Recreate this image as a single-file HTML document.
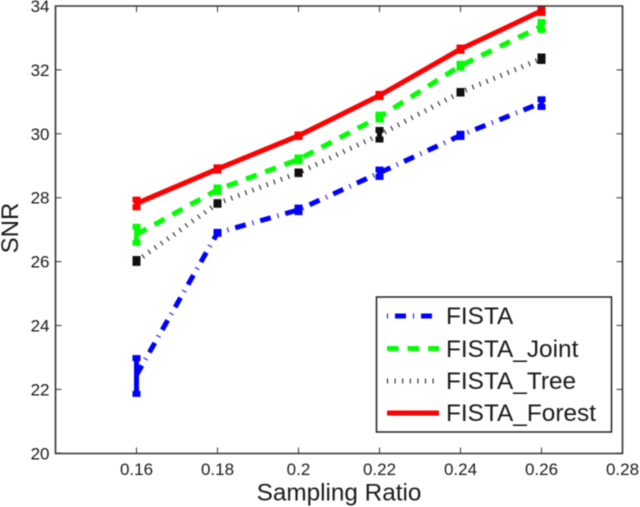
<!DOCTYPE html>
<html>
<head>
<meta charset="utf-8">
<title>SNR vs Sampling Ratio</title>
<style>
html,body{margin:0;padding:0;background:#fff;width:640px;height:507px;overflow:hidden}
svg{display:block;filter:blur(0.4px)}
text{font-family:"Liberation Sans",Arial,sans-serif;fill:#1a1a1a}
</style>
</head>
<body>
<svg id="chart" width="640" height="507" viewBox="0 0 640 507" xmlns="http://www.w3.org/2000/svg">
  <rect x="55.5" y="6" width="567" height="447.5" fill="#fff"/>
  <g id="marks"></g>
  <g id="axes"></g>
  <text x="339" y="500.5" font-size="24.3" text-anchor="middle">Sampling Ratio</text>
  <text transform="translate(18,228) rotate(-90)" font-size="24" text-anchor="middle">SNR</text>
  <g>
    <rect x="376.5" y="297" width="235" height="135" fill="#fff" stroke="#222" stroke-width="1.5"/>
    <g>
      <line x1="387" x2="439" y1="316" y2="316" stroke="#0000ff" stroke-width="5" stroke-dasharray="1 7 11 7"/>
      <text x="446" y="324" font-size="24.4">FISTA</text>
    </g>
    <g>
      <line x1="387" x2="439" y1="348.5" y2="348.5" stroke="#00ff00" stroke-width="5" stroke-dasharray="11.5 9"/>
      <text x="446" y="357" font-size="24.4">FISTA_Joint</text>
    </g>
    <g>
      <line x1="387" x2="436" y1="381" y2="381" stroke="#111" stroke-width="5" stroke-dasharray="1 6.6"/>
      <text x="446" y="389" font-size="24.4">FISTA_Tree</text>
    </g>
    <g>
      <line x1="387" x2="439" y1="413" y2="413" stroke="#ff0000" stroke-width="5"/>
      <text x="446" y="421" font-size="24.4">FISTA_Forest</text>
    </g>
  </g>
</svg>
<script>
const categories = [0.16, 0.18, 0.20, 0.22, 0.24, 0.26];
const xTickLabels = ['0.16', '0.18', '0.2', '0.22', '0.24', '0.26', '0.28'];
const xTickValues = [0.16, 0.18, 0.20, 0.22, 0.24, 0.26, 0.28];
const yTickValues = [20, 22, 24, 26, 28, 30, 32, 34];

const fistaMean = [22.45, 26.90, 27.62, 28.78, 29.95, 30.97];
const fistaLow = [21.86, 26.87, 27.55, 28.65, 29.90, 30.84];
const fistaHigh = [22.98, 26.93, 27.69, 28.88, 30.00, 31.08];

const jointMean = [26.85, 28.25, 29.20, 30.53, 32.13, 33.37];
const jointLow = [26.59, 28.18, 29.14, 30.45, 32.07, 33.25];
const jointHigh = [27.09, 28.32, 29.26, 30.60, 32.19, 33.50];

const treeMean = [26.02, 27.82, 28.78, 29.97, 31.30, 32.35];
const treeLow = [25.96, 27.78, 28.74, 29.82, 31.26, 32.28];
const treeHigh = [26.08, 27.86, 28.82, 30.12, 31.34, 32.42];

const forestMean = [27.82, 28.90, 29.94, 31.20, 32.65, 33.85];
const forestLow = [27.70, 28.85, 29.90, 31.15, 32.60, 33.78];
const forestHigh = [27.94, 28.95, 29.98, 31.25, 32.70, 33.92];

const NS = 'http://www.w3.org/2000/svg';
const xScale = v => 136.5 + (v - 0.16) / 0.02 * 81;
const yScale = v => 453.3 - (v - 20) * 31.95;

function make(parent, tag, attrs) {
  const el = document.createElementNS(NS, tag);
  for (const k in attrs) el.setAttribute(k, attrs[k]);
  parent.appendChild(el);
  return el;
}

const marks = document.getElementById('marks');
const axes = document.getElementById('axes');

function drawSeries(key, mean, low, high, color, width, dash) {
  const group = make(marks, 'g', {});
  
  
  const line = make(group, 'polyline', {
    points: categories.map((c, i) => xScale(c) + ',' + yScale(mean[i])).join(' '),
    fill: 'none', stroke: color, 'stroke-width': width, 'stroke-dasharray': dash
  });
  
  
  categories.forEach((c, i) => {
    const x = xScale(c);
    const stem = make(group, 'line', {
      x1: x, x2: x, y1: yScale(low[i]), y2: yScale(high[i]), stroke: color, 'stroke-width': 5
    });
    
    
    [low[i], high[i]].forEach(v => {
      const cap = make(group, 'rect', {
        x: x - 4, y: yScale(v) - 3, width: 8, height: 6, fill: color
      });
      
      
    });
  });
}

drawSeries('fista', fistaMean, fistaLow, fistaHigh, '#0000ff', 5, '11 7 1 7');
drawSeries('fista-joint', jointMean, jointLow, jointHigh, '#00ff00', 5, '11.5 9');
drawSeries('fista-tree', treeMean, treeLow, treeHigh, '#111111', 5, '1 6.6');
drawSeries('fista-forest', forestMean, forestLow, forestHigh, '#ff0000', 5, 'none');

const frame = make(axes, 'path', {
  d: 'M55.5 6H622.5V453.5H55.5Z', fill: 'none', stroke: '#333', 'stroke-width': 1.6
});



xTickValues.forEach((v, i) => {
  const x = xScale(v);
  const t = make(axes, 'path', {
    d: 'M' + x + ' 453.5v-6M' + x + ' 6v6', stroke: '#333', 'stroke-width': 1, fill: 'none'
  });
  
  
  const label = make(axes, 'text', { x: x, y: 475, 'font-size': 17, 'text-anchor': 'middle' });
  label.textContent = xTickLabels[i];
  
  
});

yTickValues.forEach(v => {
  const y = yScale(v);
  const t = make(axes, 'path', {
    d: 'M55.5 ' + y + 'h6M622.5 ' + y + 'h-6', stroke: '#333', 'stroke-width': 1, fill: 'none'
  });
  
  
  const label = make(axes, 'text', { x: 49.5, y: y + 6, 'font-size': 17, 'text-anchor': 'end' });
  label.textContent = String(v);
  
  
});
</script>
</body>
</html>
